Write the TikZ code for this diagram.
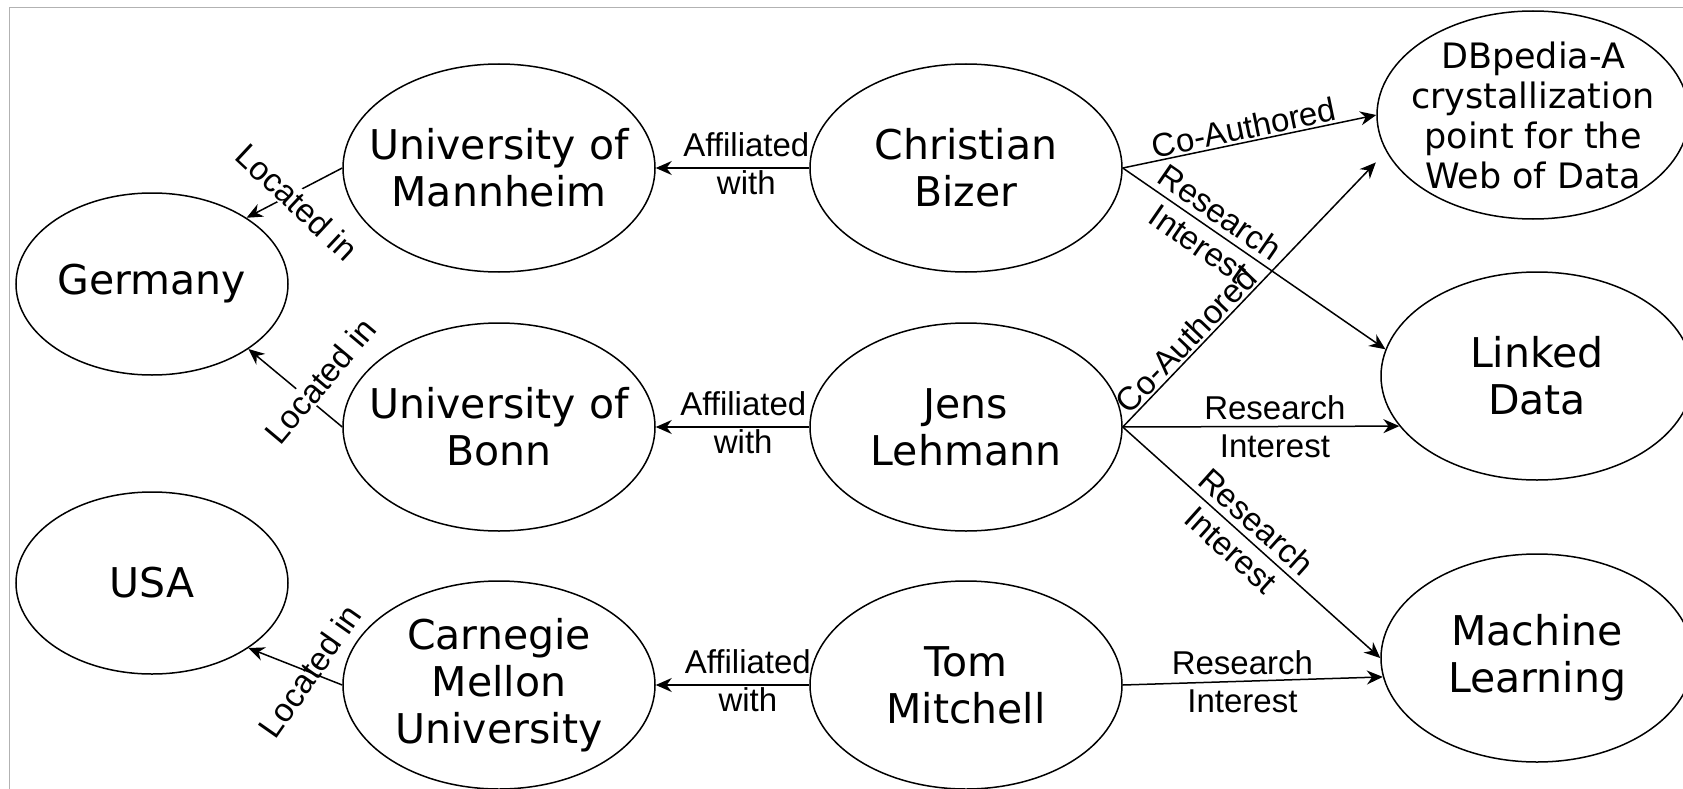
\documentclass[tikz,border=0pt]{standalone}
\usepackage{fontspec}
\setmainfont{DejaVu Sans}
\newfontfamily\edgefont{Liberation Sans}
\usetikzlibrary{shapes.geometric,arrows.meta}

\tikzset{
  entity/.style={ellipse, draw, fill=white, line width=1.5pt,
    inner xsep=-60pt, inner ysep=-30pt,
    minimum width=312pt, minimum height=208pt, align=center,
    font=\fontsize{41}{47}\selectfont},
  country/.style={entity, minimum width=272pt, minimum height=182pt},
  rel/.style={-{Stealth[length=16pt,width=14pt]}, line width=1.5pt},
  lbl/.style={font=\edgefont\fontsize{33}{38}\selectfont, align=center, inner sep=2pt},
  locin/.style={lbl, fill=white, inner sep=1pt},
}

\begin{document}
\begin{tikzpicture}[x=1pt,y=-1pt]
\useasboundingbox (0,0) rectangle (1683,789);
\draw[gray!60, line width=1pt] (9,789) -- (9,8) -- (1683,8);

% countries
\node[country] (germany) at (152,284) {Germany};
\node[country] (usa) at (152,583) {USA};

% universities
\node[entity] (mannheim) at (499,168) {University of\\Mannheim};
\node[entity] (bonn) at (499,427) {University of\\Bonn};
\node[entity] (cmu) at (499,685) {Carnegie\\Mellon\\University};

% researchers
\node[entity] (bizer) at (966,168) {Christian\\Bizer};
\node[entity] (lehmann) at (966,427) {Jens\\Lehmann};
\node[entity] (mitchell) at (966,685) {Tom\\Mitchell};

% topics
\node[entity, font=\fontsize{35}{40}\selectfont] (dbpedia) at (1533,115) {DBpedia-A\\crystallization\\point for the\\Web of Data};
\node[entity] (linked) at (1537,376) {Linked\\Data};
\node[entity] (ml) at (1537,658) {Machine\\Learning};

% located in
\draw[rel] (mannheim.west) -- (germany.35);
\draw[rel] (bonn.west) -- (germany.326);
\draw[rel] (cmu.west) -- (usa.326);
\node[locin, rotate=-43] (locmannheim) at (297,202) {Located in};
\node[locin, rotate=50] (locbonn) at (320,381) {Located in};
\node[lbl, inner sep=1pt, rotate=55] (loccmu) at (310,671) {Located in};

% affiliated with
\draw[rel] (bizer.west) -- node[lbl, pos=0.41, yshift=4pt] {Affiliated\\with} (mannheim.east);
\draw[rel] (lehmann.west) -- node[lbl, pos=0.43, yshift=4pt] {Affiliated\\with} (bonn.east);
\draw[rel] (mitchell.west) -- node[lbl, pos=0.40, yshift=4pt] {Affiliated\\with} (cmu.east);

% co-authored and research interest
\draw[rel] (bizer.east) -- node[lbl, sloped, above, pos=0.49] {Co-Authored} (dbpedia.west);
\draw[rel] (bizer.east) -- node[lbl, sloped, pos=0.33] {Research\\Interest} (linked.170);
\draw[rel, shorten >=15pt] (lehmann.east) -- node[lbl, sloped, above, pos=0.28] {Co-Authored} (dbpedia.194);
\draw[rel] (lehmann.east) -- node[lbl, pos=0.55] {Research\\Interest} (linked.200);
\draw[rel] (lehmann.east) -- node[lbl, sloped, pos=0.47] {Research\\Interest} (ml.west);
\draw[rel] (mitchell.east) -- node[lbl, pos=0.46] {Research\\Interest} (ml.187);
\end{tikzpicture}
\end{document}
